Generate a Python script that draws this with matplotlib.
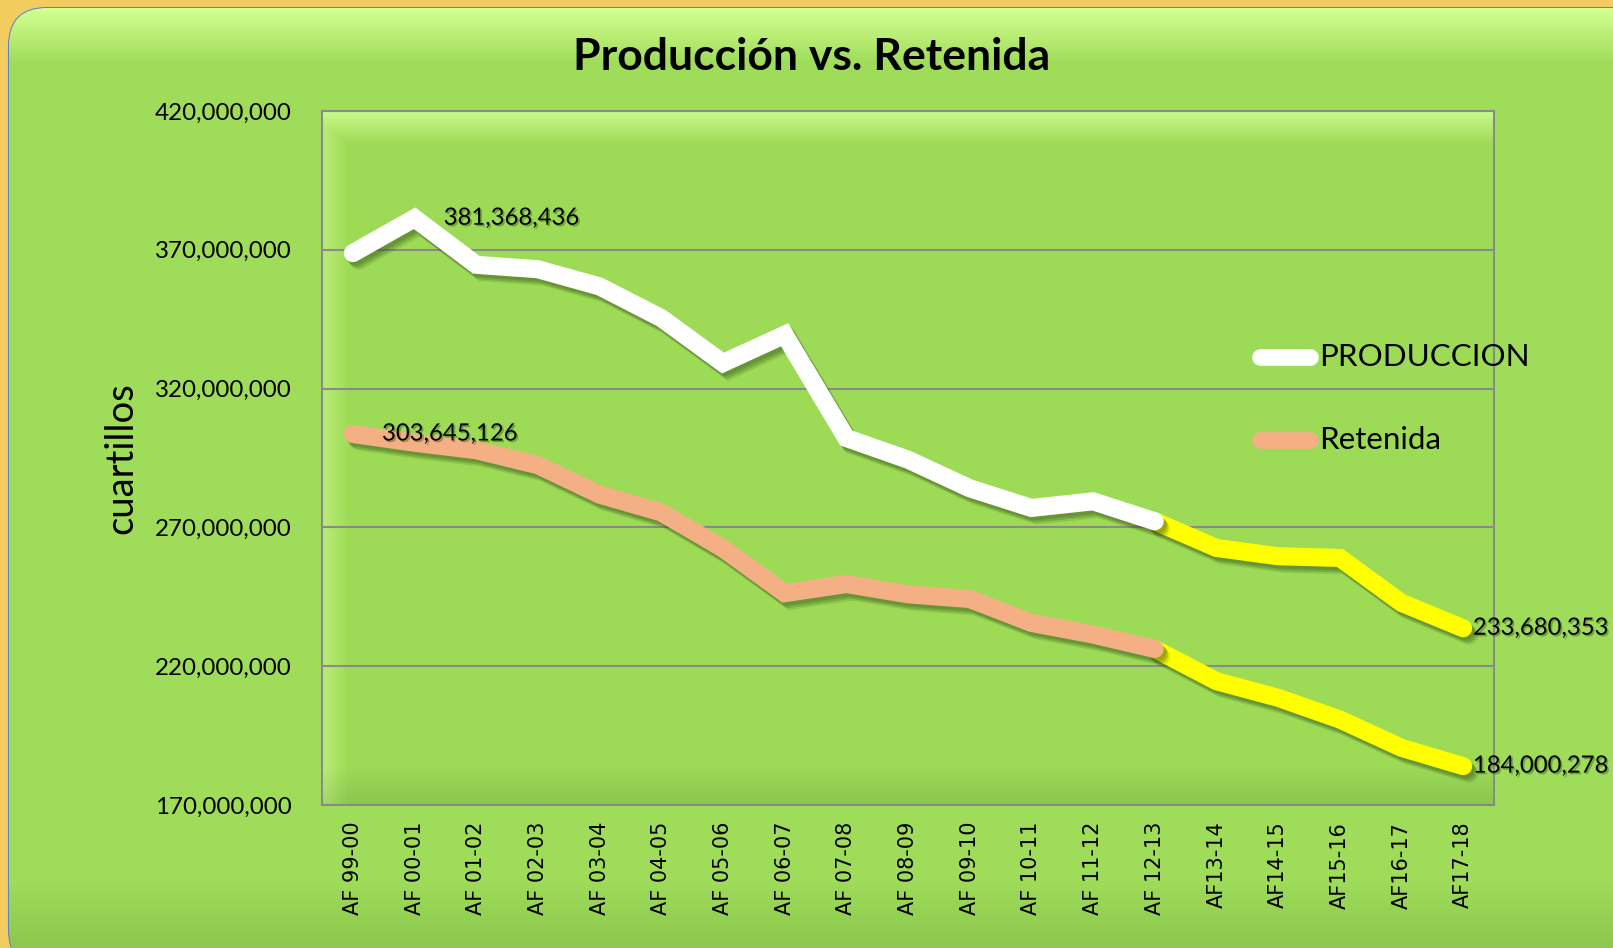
import numpy as np
import matplotlib
matplotlib.use("Agg")
import matplotlib.pyplot as plt
import matplotlib.patheffects as pe
from matplotlib.patches import FancyBboxPatch
from matplotlib.lines import Line2D
from matplotlib.ticker import FuncFormatter

# datos
categorias = ['AF 99-00', 'AF 00-01', 'AF 01-02', 'AF 02-03', 'AF 03-04', 'AF 04-05',
              'AF 05-06', 'AF 06-07', 'AF 07-08', 'AF 08-09', 'AF 09-10', 'AF 10-11',
              'AF 11-12', 'AF 12-13', 'AF13-14', 'AF14-15', 'AF15-16', 'AF16-17', 'AF17-18']
produccion = [368.8e6, 381368436, 364.6e6, 363.0e6, 356.8e6, 345.4e6, 329.2e6, 339.4e6,
              302.2e6, 294.4e6, 284.1e6, 277.0e6, 279.4e6, 272.2e6, 262.6e6, 259.6e6,
              259.0e6, 242.8e6, 233680353]
retenida = [303645126, 300.5e6, 297.8e6, 292.4e6, 281.8e6, 275.4e6, 262.4e6, 246.3e6,
            249.6e6, 245.9e6, 244.2e6, 235.6e6, 231.4e6, 226.2e6, 214.6e6, 208.6e6,
            200.8e6, 190.6e6, 184000278]
corte = 13  # desde aqui la linea es amarilla

W, H = 1613, 948
fig = plt.figure(figsize=(W / 100, H / 100), dpi=100)
fig.patch.set_facecolor('#F3CC60')

# fondo del grafico (rectangulo redondeado con degradado)
bg = fig.add_axes([0, 0, 1, 1], zorder=-10)
bg.set_xlim(0, W)
bg.set_ylim(H, 0)
bg.axis('off')
caja = FancyBboxPatch((9, 8), 1640, 960, boxstyle='round,pad=0,rounding_size=38',
                      facecolor='#9FDC5A', edgecolor='#5A86C8', linewidth=1.5)
bg.add_patch(caja)
base = np.array([0x9F, 0xDC, 0x5A]) / 255
claro = np.array([0xD4, 0xFF, 0x92]) / 255
oscuro = np.array([0x8C, 0xC8, 0x4E]) / 255
yy = np.arange(H)[:, None]
t_top = np.clip(1 - (yy - 8) / 55, 0, 1)
t_bot = np.clip((yy - 880) / 66, 0, 1)
img = base * (1 - t_top - t_bot)[..., None] + claro * t_top[..., None] + oscuro * t_bot[..., None]
img = np.repeat(img, 4, axis=1)
im = bg.imshow(img, extent=[0, W, H, 0], aspect='auto', zorder=1)
im.set_clip_path(caja)

# area de trazado
ax = fig.add_axes([322 / W, 1 - 805 / H, (1494 - 322) / W, (805 - 111) / H])
ax.set_facecolor('#9EDB57')
ph, pw = 694, 1172
py = np.arange(ph)[:, None] * np.ones((1, pw))
px = np.ones((ph, 1)) * np.arange(pw)[None, :]
a_top = np.clip(1 - py / 32, 0, 1)
a_left = np.clip(1 - px / 26, 0, 1) * 0.6
a_hi = np.maximum(a_top, a_left)
a_bot = np.clip((py - (ph - 40)) / 40, 0, 1) * 0.8
pbase = np.array([0x9E, 0xDB, 0x57]) / 255
pclaro = np.array([0xCB, 0xFA, 0x8A]) / 255
poscuro = np.array([0x86, 0xC0, 0x4C]) / 255
pimg = (pbase * (1 - a_hi - a_bot)[..., None] + pclaro * a_hi[..., None]
        + poscuro * a_bot[..., None])
ax.imshow(pimg, extent=[0, 1, 0, 1], transform=ax.transAxes, aspect='auto', zorder=0)

x = np.arange(len(categorias))
sombra = [pe.SimpleLineShadow(offset=(2.0, -2.5), shadow_color='#2F4A12', alpha=0.22),
          pe.SimpleLineShadow(offset=(3.2, -4.0), shadow_color='#2F4A12', alpha=0.22),
          pe.SimpleLineShadow(offset=(4.4, -5.4), shadow_color='#2F4A12', alpha=0.14),
          pe.Normal()]
lw = 13
ax.plot(x[:corte + 1], produccion[:corte + 1], color='white', lw=lw, zorder=4,
        solid_capstyle='round', solid_joinstyle='miter', path_effects=sombra)
ax.plot(x[corte:], produccion[corte:], color='#FFFF00', lw=lw, zorder=3,
        solid_capstyle='round', solid_joinstyle='miter', path_effects=sombra)
ax.plot(x[:corte + 1], retenida[:corte + 1], color='#F4B084', lw=lw, zorder=4,
        solid_capstyle='round', solid_joinstyle='miter', path_effects=sombra)
ax.plot(x[corte:], retenida[corte:], color='#FFFF00', lw=lw, zorder=3,
        solid_capstyle='round', solid_joinstyle='miter', path_effects=sombra)

# etiquetas de datos
txt_fx = [pe.withSimplePatchShadow(offset=(1.2, -1.2), shadow_rgbFace='#3A5A1A', alpha=0.45)]
def etiqueta(i, serie, dx):
    ax.annotate(f'{serie[i]:,.0f}', (x[i], serie[i]), xytext=(dx, 0),
                textcoords='offset points', ha='left', va='center',
                fontsize=17.2, family='Lato', color='black', zorder=6,
                path_effects=txt_fx, annotation_clip=False)
etiqueta(1, produccion, 21)
etiqueta(0, retenida, 21)
etiqueta(18, produccion, 7)
etiqueta(18, retenida, 7)

ax.set_xlim(-0.5, len(categorias) - 0.5)
ax.set_ylim(170e6, 420e6)
ax.set_yticks(np.arange(170e6, 421e6, 50e6))
ax.yaxis.set_major_formatter(FuncFormatter(lambda v, p: f'{v:,.0f}'))
ax.set_xticks(x)
ax.set_xticklabels(categorias, rotation=90, family='DejaVu Sans', fontsize=15)
ax.tick_params(axis='y', length=0, pad=22, labelsize=17.4)
ax.tick_params(axis='x', length=0, pad=12)
for lab in ax.get_yticklabels():
    lab.set_family('Lato')
ax.grid(axis='y', color='#8A8A8A', lw=1.5, zorder=1)
ax.set_axisbelow(True)
for s in ax.spines.values():
    s.set_color('#8A8A8A')
    s.set_linewidth(1.5)

# titulo y eje
fig.text(812 / W, 1 - 57 / H, 'Producción vs. Retenida', ha='center', va='center',
         fontsize=32, fontweight='bold', family='Lato')
fig.text(121 / W, 1 - 458 / H, 'cuartillos', rotation=90, ha='center', va='center',
         fontsize=27.5, family='Lato')

# leyenda
for yl, col, nombre in [(357, 'white', 'PRODUCCION'), (440, '#F4B084', 'Retenida')]:
    fig.add_artist(Line2D([1260 / W, 1310 / W], [1 - yl / H, 1 - yl / H], color=col,
                          lw=12, solid_capstyle='round', transform=fig.transFigure, zorder=7))
    fig.text(1319 / W, 1 - yl / H, nombre, ha='left', va='center', fontsize=22.6,
             family='Lato', zorder=7)

fig.savefig('out.png', dpi=100, facecolor=fig.get_facecolor())
